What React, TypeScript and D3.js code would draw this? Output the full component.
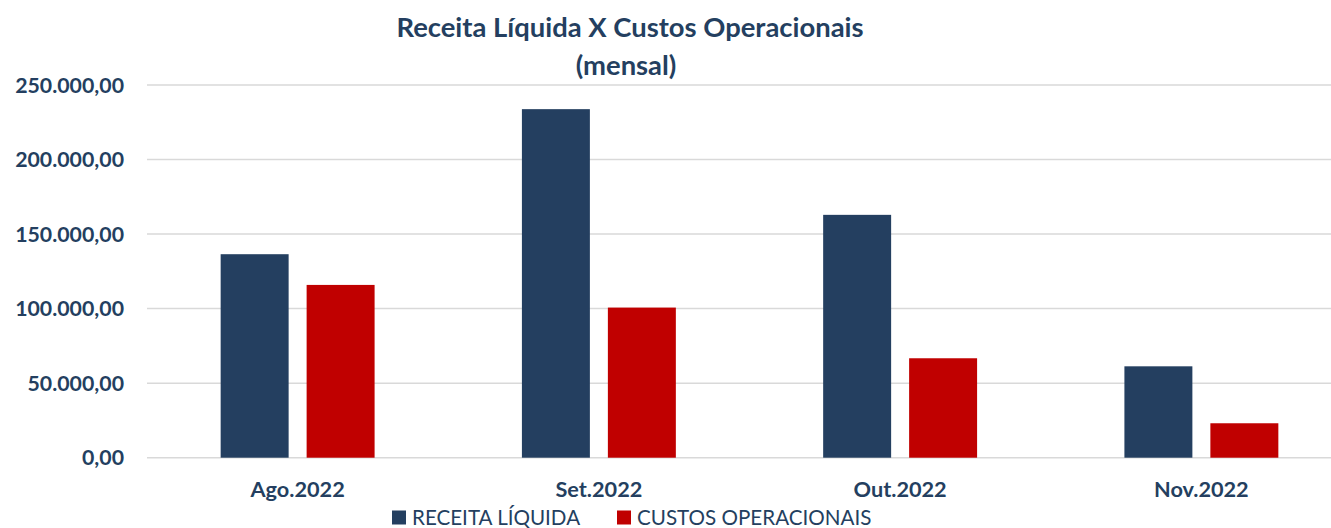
import React from 'react';
import * as d3 from 'd3';

// dados mensais
const categorias = ['Ago.2022', 'Set.2022', 'Out.2022', 'Nov.2022'];
const series = ['RECEITA LÍQUIDA', 'CUSTOS OPERACIONAIS'];
const receitaLiquida = [136500, 233800, 162900, 61300];
const custosOperacionais = [115900, 100700, 66700, 23100];
const yTicks = [0, 50000, 100000, 150000, 200000, 250000];

const cores = ['#243F60', '#C00000'];
const texto = '#243F60';
const fonte = 'Lato, "Open Sans", sans-serif';

const W = 1331;
const H = 528;

export default function App() {
  const x = d3.scaleBand<string>()
    .domain(categorias)
    .range([147, 1352])
    .paddingInner(0.489)
    .paddingOuter(0.2445);

  const xs = d3.scaleBand<string>()
    .domain(series)
    .range([0, x.bandwidth()])
    .paddingInner(0.2093);

  const y = d3.scaleLinear().domain([0, 250000]).range([457.7, 85]);

  const fmt = (v: number) =>
    d3.format(',.2f')(v).replace(/,/g, '#').replace('.', ',').replace(/#/g, '.');

  const valores = [receitaLiquida, custosOperacionais];

  return (
    <svg width={W} height={H} style={{ position: 'absolute', left: 0, top: 0, background: '#fff' }} fontFamily={fonte}>
      <text x={630} y={37} textAnchor="middle" fontSize={27.4} fontWeight={700} fill={texto}>
        Receita Líquida X Custos Operacionais
      </text>
      <text x={626} y={75} textAnchor="middle" fontSize={27.4} fontWeight={700} fill={texto}>
        (mensal)
      </text>

      {yTicks.map(t => (
        <g key={t}>
          <line x1={147} x2={1352} y1={y(t)} y2={y(t)} stroke="#D9D9D9" strokeWidth={1.5} />
          <text x={124} y={y(t)} dy="0.36em" textAnchor="end" fontSize={21.3} fontWeight={700} fill={texto}>
            {fmt(t)}
          </text>
        </g>
      ))}

      {categorias.map((c, i) => (
        <g key={c} transform={`translate(${x(c)},0)`}>
          {series.map((s, j) => (
            <rect
              key={s}
              x={xs(s)}
              y={y(valores[j][i])}
              width={xs.bandwidth()}
              height={y(0) - y(valores[j][i])}
              fill={cores[j]}
            />
          ))}
          <text x={x.bandwidth() / 2} y={497} textAnchor="middle" fontSize={21.7} fontWeight={700} fill={texto}>
            {c}
          </text>
        </g>
      ))}

      <g>
        <rect x={392} y={510.5} width={14} height={14} fill={cores[0]} />
        <text x={412} y={524.5} fontSize={20.6} fill={texto}>{series[0]}</text>
        <rect x={617} y={510.5} width={14} height={14} fill={cores[1]} />
        <text x={637} y={524.5} fontSize={20.6} fill={texto}>{series[1]}</text>
      </g>
    </svg>
  );
}
